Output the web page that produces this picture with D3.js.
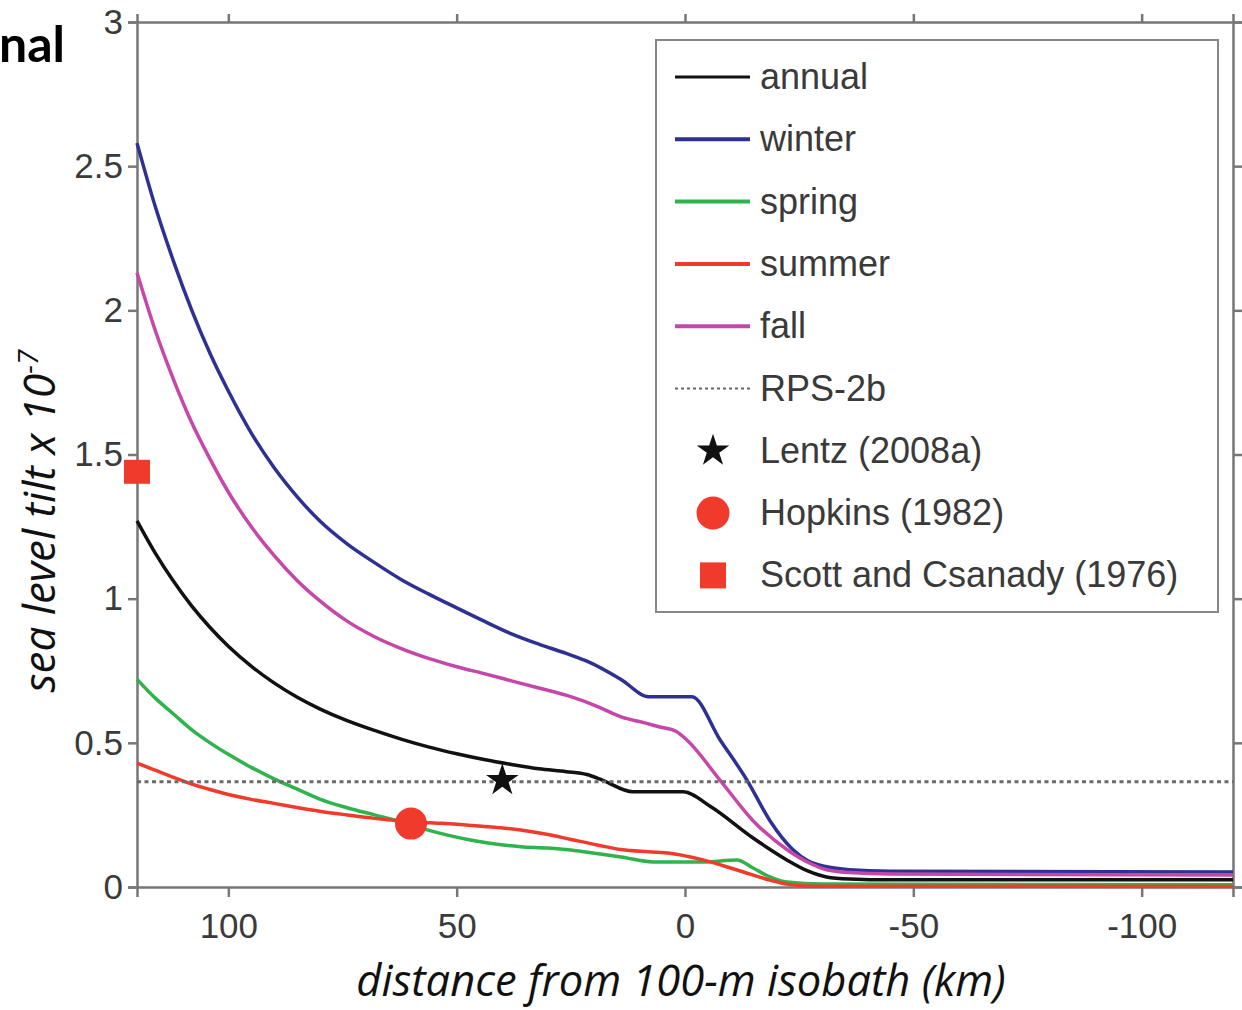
<!DOCTYPE html>
<html>
<head>
<meta charset="utf-8">
<script src="https://cdn.jsdelivr.net/npm/d3@7"></script>
<style>
  body { margin: 0; background: #fff; }
  svg { display: block; }
</style>
</head>
<body>
<svg id="chart" width="1242" height="1010"></svg>
<script>

// distance from 100-m isobath (km), sea level tilt x 10^-7
const annual = [[120, 1.27], [116, 1.158], [112, 1.06], [108, 0.974], [104, 0.9], [100, 0.835], [95, 0.766], [90, 0.708], [85, 0.659], [80, 0.618], [74, 0.577], [68, 0.543], [62, 0.512], [56, 0.485], [50, 0.462], [44, 0.442], [38, 0.425], [32, 0.41], [26, 0.4], [21.5, 0.39], [18, 0.37], [11.4, 0.33], [0.4, 0.33], [-5.5, 0.28], [-14.9, 0.17], [-22.3, 0.094], [-27, 0.055], [-31, 0.035], [-36, 0.028], [-45, 0.025], [-120, 0.025]]
const winter = [[120, 2.58], [116, 2.36], [112, 2.17], [108, 2.0], [104, 1.85], [100, 1.72], [95, 1.575], [90, 1.455], [85, 1.355], [80, 1.27], [74, 1.19], [68, 1.125], [62, 1.065], [56, 1.015], [50, 0.968], [44, 0.922], [38, 0.878], [32, 0.842], [26, 0.81], [21, 0.78], [14, 0.72], [8, 0.66], [-1.5, 0.66], [-7.7, 0.51], [-13.6, 0.37], [-18.6, 0.23], [-23.6, 0.13], [-27, 0.09], [-31, 0.07], [-36, 0.06], [-45, 0.055], [-120, 0.052]]
const spring = [[120, 0.72], [116, 0.655], [112, 0.6], [108, 0.545], [104, 0.5], [100, 0.46], [95, 0.415], [90, 0.375], [85, 0.34], [80, 0.305], [74, 0.275], [68, 0.25], [62, 0.225], [58, 0.205], [52, 0.18], [47, 0.163], [42, 0.15], [36, 0.14], [30, 0.135], [25, 0.128], [19, 0.115], [14, 0.104], [7, 0.087], [-4, 0.087], [-11.4, 0.094], [-14.9, 0.066], [-18.6, 0.035], [-22.3, 0.017], [-30, 0.01], [-120, 0.008]]
const summer = [[120, 0.43], [116, 0.405], [112, 0.38], [108, 0.357], [104, 0.338], [100, 0.321], [95, 0.304], [90, 0.29], [85, 0.276], [80, 0.263], [74, 0.25], [68, 0.238], [62, 0.229], [56, 0.223], [50, 0.218], [44, 0.21], [36, 0.198], [30, 0.182], [25, 0.165], [19, 0.145], [14, 0.13], [8, 0.122], [3.3, 0.117], [-3.9, 0.094], [-11.4, 0.059], [-18.6, 0.024], [-22.3, 0.01], [-28, 0.003], [-120, 0.002]]
const fall = [[120, 2.13], [116, 1.93], [112, 1.76], [108, 1.61], [104, 1.484], [100, 1.37], [95, 1.25], [90, 1.15], [85, 1.064], [80, 0.993], [74, 0.922], [68, 0.868], [62, 0.826], [56, 0.792], [50, 0.764], [44, 0.74], [38, 0.715], [32, 0.69], [25, 0.66], [19, 0.625], [14, 0.59], [9, 0.57], [5.5, 0.555], [2, 0.54], [-0.4, 0.51], [-7.7, 0.37], [-14.9, 0.23], [-22.3, 0.13], [-27, 0.085], [-31, 0.06], [-36, 0.05], [-45, 0.045], [-120, 0.042]]

const rps2b = 0.365
const lentz = [40, 0.37]
const hopkins = [60, 0.22]
const scottCsanady = [120, 1.44]

const seriesNames = ['annual', 'winter', 'spring', 'summer', 'fall']
const seriesData = [annual, winter, spring, summer, fall]
const seriesColors = ['#111111', '#2e3192', '#2fb34d', '#f03a2b', '#c746a9']
const markerNames = ['Lentz (2008a)', 'Hopkins (1982)', 'Scott and Csanady (1976)']

const xTicks = [100, 50, 0, -50, -100]
const yTicks = [0, 0.5, 1, 1.5, 2, 2.5, 3]
const yTickLabels = ['0', '0.5', '1', '1.5', '2', '2.5', '3']


const svg = d3.select('#chart')

const plotLeft = 137, plotRight = 1233, plotTop = 22, plotBottom = 887

const xScale = d3.scaleLinear().domain([120, -120]).range([plotLeft, plotRight])
const yScale = d3.scaleLinear().domain([0, 3]).range([plotBottom, plotTop])

const axisColor = '#777'
const textColor = '#3a3a3a'
const font = '"Liberation Sans", Arial, sans-serif'
const titleFont = '"Open Sans", Lato, sans-serif'

// axes, ticks pointing outward on all four sides
const xAxisBottom = d3.axisBottom(xScale).tickValues(xTicks).tickSize(10).tickPadding(16).tickFormat(d => d)
const xAxisTop = d3.axisTop(xScale).tickValues(xTicks).tickSize(8).tickFormat('')
const yAxisLeft = d3.axisLeft(yScale).tickValues(yTicks).tickSize(9).tickPadding(5)
    .tickFormat((d, i) => yTickLabels[i])
const yAxisRight = d3.axisRight(yScale).tickValues(yTicks).tickSize(9).tickFormat('')

function styleAxis(g) {
    g.select('.domain').attr('stroke', axisColor).attr('stroke-width', 2.5)
    g.selectAll('.tick line').attr('stroke', axisColor).attr('stroke-width', 2.5)
    g.selectAll('.tick text')
        .attr('fill', textColor)
        .style('font-family', font)
        .style('font-size', '35px')
}

svg.append('g').attr('transform', 'translate(0,' + plotBottom + ')').call(xAxisBottom).call(styleAxis)
svg.append('g').attr('transform', 'translate(0,' + plotTop + ')').call(xAxisTop).call(styleAxis)
svg.append('g').attr('transform', 'translate(' + plotLeft + ',0)').call(yAxisLeft).call(styleAxis)
svg.append('g').attr('transform', 'translate(' + plotRight + ',0)').call(yAxisRight).call(styleAxis)

// series lines
const line = d3.line()
    .x(d => xScale(d[0]))
    .y(d => yScale(d[1]))
    .curve(d3.curveMonotoneX)

seriesData.forEach((data, i) => {
    svg.append('path')
        .datum(data)
        .attr('d', line)
        .attr('fill', 'none')
        .attr('stroke', seriesColors[i])
        .attr('stroke-width', 3.5)
        .attr('stroke-linejoin', 'round')
})

// RPS-2b reference level
svg.append('line')
    .attr('x1', xScale(120)).attr('x2', xScale(-120))
    .attr('y1', yScale(rps2b)).attr('y2', yScale(rps2b))
    .attr('stroke', '#6a6a6a')
    .attr('stroke-width', 3)
    .attr('stroke-dasharray', '4,3.5')

// observation markers
const star = d3.symbol().type(d3.symbolStar).size(330)

svg.append('path')
    .attr('d', star())
    .attr('transform', 'translate(' + xScale(lentz[0]) + ',' + yScale(lentz[1]) + ')')
    .attr('fill', '#111')

svg.append('circle')
    .attr('cx', xScale(hopkins[0])).attr('cy', yScale(hopkins[1]))
    .attr('r', 16)
    .attr('fill', '#f03a2b')

svg.append('rect')
    .attr('x', xScale(scottCsanady[0]) - 13).attr('y', yScale(scottCsanady[1]) - 12)
    .attr('width', 26).attr('height', 24)
    .attr('fill', '#f03a2b')

// legend
const legend = svg.append('g')

legend.append('rect')
    .attr('x', 656).attr('y', 40)
    .attr('width', 562).attr('height', 572)
    .attr('fill', '#fff')
    .attr('stroke', '#888')
    .attr('stroke-width', 2)

const rowY = i => 77 + i * 62.3

seriesNames.forEach((name, i) => {
    legend.append('line')
        .attr('x1', 675).attr('x2', 750)
        .attr('y1', rowY(i)).attr('y2', rowY(i))
        .attr('stroke', seriesColors[i])
        .attr('stroke-width', i == 0 ? 3 : 4)
})

legend.append('line')
    .attr('x1', 675).attr('x2', 750)
    .attr('y1', rowY(5)).attr('y2', rowY(5))
    .attr('stroke', '#666')
    .attr('stroke-width', 2)
    .attr('stroke-dasharray', '3,3')

legend.append('path')
    .attr('d', star())
    .attr('transform', 'translate(713,' + rowY(6) + ')')
    .attr('fill', '#111')

legend.append('circle')
    .attr('cx', 713).attr('cy', rowY(7))
    .attr('r', 16.5)
    .attr('fill', '#f03a2b')

legend.append('rect')
    .attr('x', 700).attr('y', rowY(8) - 13)
    .attr('width', 26).attr('height', 26)
    .attr('fill', '#f03a2b')

const legendLabels = seriesNames.concat(['RPS-2b']).concat(markerNames)

legend.selectAll('text.leg')
    .data(legendLabels)
    .enter()
    .append('text')
    .attr('class', 'leg')
    .attr('x', 760)
    .attr('y', (d, i) => rowY(i) + 12)
    .attr('fill', textColor)
    .style('font-family', font)
    .style('font-size', '36px')
    .text(d => d)

// axis titles
svg.append('text')
    .attr('x', 681).attr('y', 996)
    .attr('text-anchor', 'middle')
    .attr('fill', '#111')
    .style('font-family', titleFont)
    .style('font-style', 'italic')
    .style('font-size', '43.5px')
    .text('distance from 100-m isobath (km)')

const yTitle = svg.append('text')
    .attr('transform', 'translate(55,521) rotate(-90)')
    .attr('text-anchor', 'middle')
    .attr('fill', '#111')
    .style('font-family', titleFont)
    .style('font-style', 'italic')
    .style('font-size', '44px')

yTitle.append('tspan').text('sea level tilt x 10')
yTitle.append('tspan').attr('dy', -17).style('font-size', '28px').text('-7')

// cropped panel title
svg.append('text')
    .attr('x', 65).attr('y', 62)
    .attr('text-anchor', 'end')
    .attr('fill', '#000')
    .style('font-family', 'Lato, "Open Sans", sans-serif')
    .style('font-weight', 'bold')
    .style('font-size', '50px')
    .text('nal')

</script>
</body>
</html>
